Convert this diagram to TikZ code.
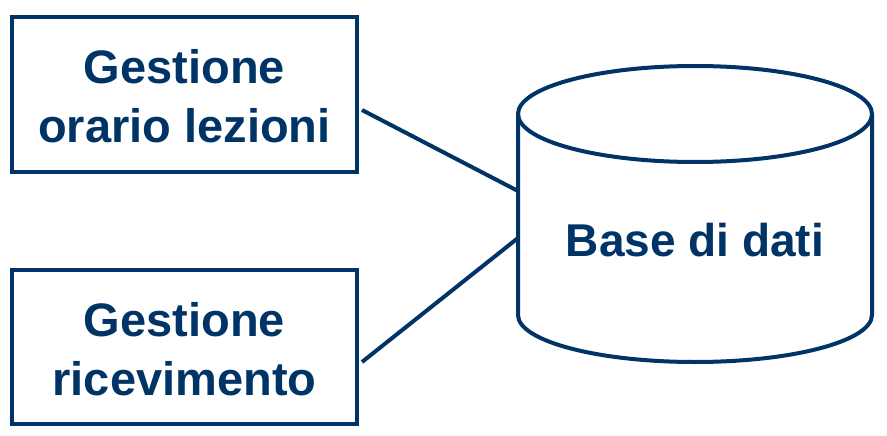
\documentclass[tikz,border=0pt]{standalone}
\usepackage{fontspec}
\setmainfont{Liberation Sans}
\usetikzlibrary{calc}
\definecolor{navy}{RGB}{0,51,102}
\begin{document}
\begin{tikzpicture}[x=1pt,y=-1pt,
  box/.style={draw=navy,line width=4pt,minimum width=345pt,minimum height=154pt,inner sep=0pt},
  lbl/.style={text=navy,font=\fontsize{47}{59}\selectfont\bfseries,align=center},
  link/.style={draw=navy,line width=4pt}]
\useasboundingbox (0,0) rectangle (887,436);
\node[box] (a) at (184.5,94.5) {};
\node[lbl] at (184.5,96) {Gestione\\orario lezioni};
\node[box] (b) at (184.5,347) {};
\node[lbl] at (184.5,349) {Gestione\\ricevimento};
% cylinder
\draw[navy,line width=4pt,fill=white] (518,114) -- (518,315) arc[start angle=180,end angle=0,x radius=177,y radius=47] -- (872,114);
\draw[navy,line width=4pt] (695,114) ellipse[x radius=177,y radius=48];
\coordinate (c1) at (518,191);
\coordinate (c2) at (518,238);
\node[lbl,font=\fontsize{46}{55}\selectfont\bfseries] (db) at (695,240) {Base di dati};
\draw[link] (a.east |- 0,110) ++(3,0) -- (c1);
\draw[link] (b.east |- 0,362) ++(3,0) -- (c2);
\end{tikzpicture}
\end{document}
